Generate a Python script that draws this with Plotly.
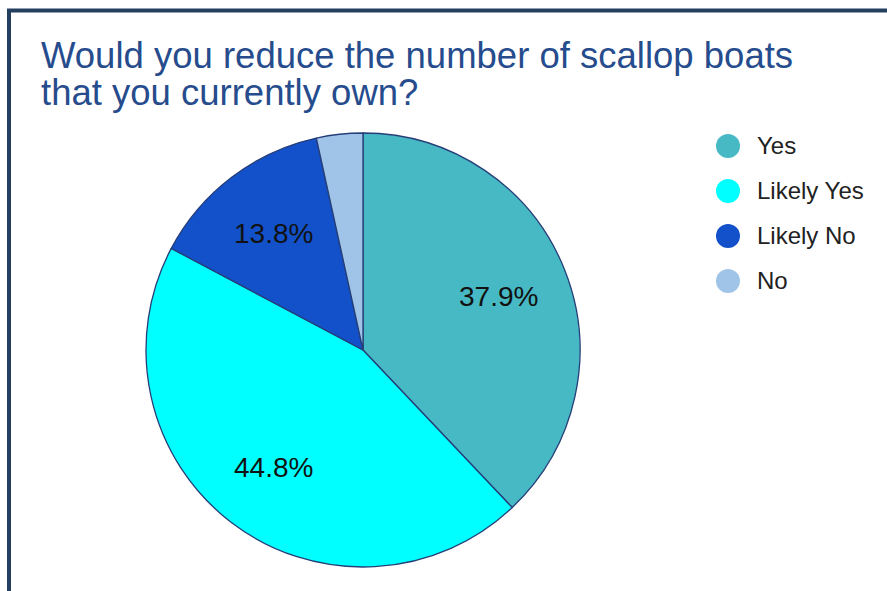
import math
import plotly.graph_objects as go

categories = ["Yes", "Likely Yes", "Likely No", "No"]
counts = [11, 13, 4, 1]
colors = ["#47B9C4", "#00FFFF", "#1251C9", "#A0C4E8"]
title_lines = ["Would you reduce the number of scallop boats", "that you currently own?"]

W, H = 887, 591
total = sum(counts)
FONT = "Liberation Sans, Arial"

fig = go.Figure()

# pie geometry (pixels)
cx, cy, R = 363, 350, 217
fig.add_trace(go.Pie(
    labels=categories, values=counts, sort=False, direction="clockwise", rotation=0,
    marker=dict(colors=colors, line=dict(color="#253E78", width=1.3)),
    textinfo="none", showlegend=False, hoverinfo="label+percent",
    domain=dict(x=[(cx - R) / W, (cx + R) / W], y=[1 - (cy + R) / H, 1 - (cy - R) / H]),
))

# percentage labels along each slice's mid angle
annotations = []
cum = 0
for c in counts:
    frac = c / total
    mid = (cum + frac / 2) * 2 * math.pi
    cum += frac
    if frac < 0.05:
        continue
    r = 0.675 * R
    px = cx + r * math.sin(mid)
    py = cy - r * math.cos(mid)
    annotations.append(dict(
        text=f"{100*frac:.1f}%", x=(px - 1) / W, y=1 - (py + 0.5) / H, xref="paper", yref="paper",
        xanchor="center", yanchor="middle", showarrow=False,
        font=dict(family=FONT, size=28, color="#111111")))

# title lines
baselines = [68, 105]
tsize = 36.5
for line, b in zip(title_lines, baselines):
    annotations.append(dict(
        text=line, x=39 / W, y=1 - (b - 0.32 * tsize - 0.5) / H, xref="paper", yref="paper",
        xanchor="left", yanchor="middle", showarrow=False,
        font=dict(family=FONT, size=tsize, color="#264C8D")))

# legend drawn as a marker+text series
idx = list(range(len(categories)))
fig.add_trace(go.Scatter(
    x=[0] * len(categories), y=idx, mode="markers",
    marker=dict(size=24, color=colors, line=dict(width=0)),
    showlegend=False, hoverinfo="skip", cliponaxis=False,
))
fig.add_trace(go.Scatter(
    x=[29] * len(categories), y=idx, mode="text", text=categories,
    textposition="middle right", yaxis="y2",
    textfont=dict(family=FONT, size=24, color="#222222"),
    showlegend=False, hoverinfo="skip", cliponaxis=False,
))

x0px = 728
row0, step = 146, 45
text_row0 = 148
fig.update_layout(
    width=W, height=H,
    margin=dict(l=0, r=0, t=0, b=0),
    paper_bgcolor="white", plot_bgcolor="rgba(0,0,0,0)",
    xaxis=dict(domain=[x0px / W, 1], range=[0, W - x0px], visible=False, fixedrange=True),
    yaxis=dict(domain=[0, 1], range=[(H - row0) / step, -row0 / step], visible=False, fixedrange=True),
    yaxis2=dict(overlaying="y", range=[(H - text_row0) / step, -text_row0 / step],
                visible=False, fixedrange=True),
    annotations=annotations,
    shapes=[dict(type="rect", xref="paper", yref="paper",
                 x0=9 / W, x1=1.05, y0=-0.05, y1=1 - 10.5 / H,
                 line=dict(color="#243F60", width=4), fillcolor="rgba(0,0,0,0)")],
)

fig.write_html("out.html")
